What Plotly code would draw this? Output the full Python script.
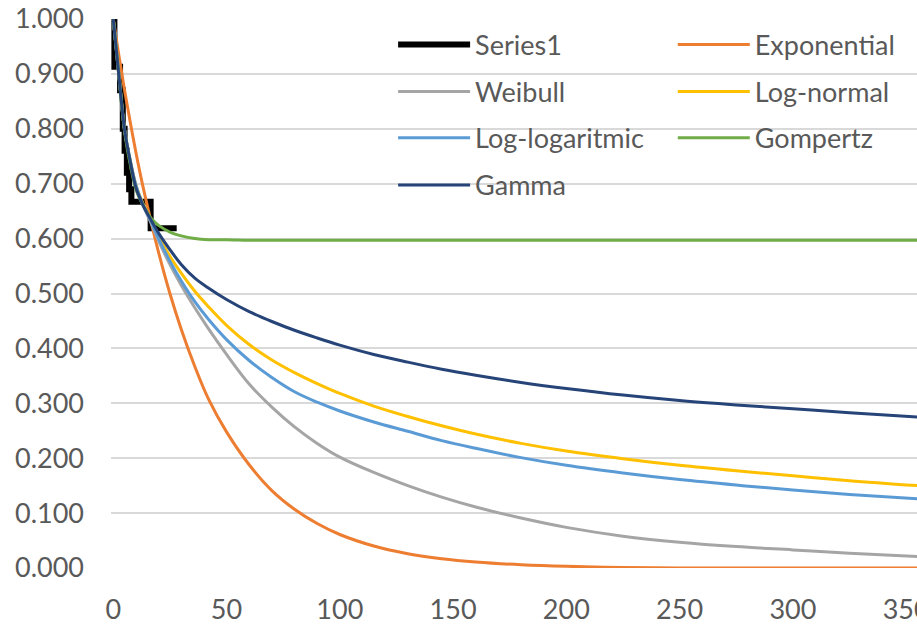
import plotly.graph_objects as go

# ---- data ----
km_time = [0, 0.5, 3, 4.2, 5, 6, 7, 8, 16.5, 28]
km_surv = [1.0, 0.913, 0.87, 0.80, 0.76, 0.72, 0.69, 0.667, 0.619, 0.619]

t = [0, 2.5, 5, 7.5, 10, 13, 16.5, 20, 25, 30, 36, 42, 50, 60, 70, 80, 90, 100,
     115, 130, 145, 160, 180, 200, 225, 250, 275, 300, 325, 355]

exponential = [1.0, 0.933, 0.87, 0.812, 0.757, 0.697, 0.634, 0.575, 0.5, 0.435,
               0.367, 0.308, 0.248, 0.188, 0.141, 0.107, 0.081, 0.061,
               0.04, 0.026, 0.017, 0.011, 0.006, 0.003, 0.001, 0.0, 0.0, 0.0, 0.0, 0.0]
weibull = [1.0, 0.898, 0.798, 0.742, 0.697, 0.662, 0.63, 0.596, 0.553, 0.515,
           0.474, 0.436, 0.389, 0.335, 0.293, 0.257, 0.227, 0.202,
           0.174, 0.15, 0.129, 0.111, 0.091, 0.074, 0.058, 0.047, 0.039, 0.033, 0.027, 0.021]
log_normal = [1.0, 0.898, 0.798, 0.742, 0.697, 0.665, 0.635, 0.604, 0.568, 0.537,
              0.504, 0.476, 0.442, 0.407, 0.379, 0.356, 0.336, 0.318,
              0.295, 0.276, 0.259, 0.244, 0.227, 0.213, 0.199, 0.187, 0.177, 0.168, 0.159, 0.15]
log_logistic = [1.0, 0.898, 0.798, 0.742, 0.697, 0.663, 0.633, 0.600, 0.559, 0.523,
                0.485, 0.453, 0.416, 0.378, 0.347, 0.321, 0.302, 0.286,
                0.266, 0.249, 0.232, 0.218, 0.201, 0.187, 0.173, 0.161, 0.151, 0.142, 0.134, 0.126]
gompertz = [1.0, 0.895, 0.795, 0.735, 0.69, 0.662, 0.638, 0.624, 0.612, 0.605,
            0.600, 0.598, 0.598, 0.597, 0.597, 0.597, 0.597, 0.597,
            0.597, 0.597, 0.597, 0.597, 0.597, 0.597, 0.597, 0.597, 0.597, 0.597, 0.597, 0.597]
gamma = [1.0, 0.895, 0.798, 0.74, 0.693, 0.662, 0.635, 0.61, 0.58, 0.553,
         0.528, 0.51, 0.489, 0.467, 0.449, 0.433, 0.419, 0.406,
         0.389, 0.375, 0.362, 0.351, 0.338, 0.327, 0.315, 0.305, 0.297, 0.29, 0.283, 0.275]

y_ticks = [0.0, 0.1, 0.2, 0.3, 0.4, 0.5, 0.6, 0.7, 0.8, 0.9, 1.0]
x_ticks = [0, 50, 100, 150, 200, 250, 300, 350]

FONT = "Lato, 'Open Sans', sans-serif"
GREY = "#595959"

series = [
    ("Series1", km_time, km_surv, "#000000", 6, "hv"),
    ("Exponential", t, exponential, "#ED7D31", 3, "spline"),
    ("Weibull", t, weibull, "#A5A5A5", 3, "spline"),
    ("Log-normal", t, log_normal, "#FFC000", 3, "spline"),
    ("Log-logaritmic", t, log_logistic, "#5B9BD5", 3, "spline"),
    ("Gompertz", t, gompertz, "#70AD47", 3, "spline"),
    ("Gamma", t, gamma, "#264478", 3, "spline"),
]
# legend grid: (column x in paper, row y in paper)
col_x = [0.35, 0.697]
row_y = [0.9526, 0.867, 0.783, 0.697]

fig = go.Figure()
legends = {}
for i, (name, xs, ys, col, w, shape) in enumerate(series):
    lname = "legend" if i == 0 else f"legend{i + 1}"
    line = dict(color=col, width=w, shape=shape)
    if shape == "spline":
        line["smoothing"] = 1.0
    fig.add_trace(go.Scatter(x=xs, y=ys, name=name, mode="lines", line=line,
                             legend=lname))
    legends[lname] = dict(x=col_x[i % 2], y=row_y[i // 2], xanchor="left", yanchor="middle",
                          orientation="h", bgcolor="rgba(0,0,0,0)", borderwidth=0,
                          font=dict(family=FONT, size=27, color=GREY), itemwidth=72)

fig.update_layout(
    width=917, height=624,
    margin=dict(l=111, r=0, t=19, b=56, autoexpand=False),
    paper_bgcolor="white", plot_bgcolor="white",
    showlegend=True,
    font=dict(family=FONT, color=GREY),
    **legends,
)
fig.update_xaxes(range=[-1, 354.8], tickvals=x_ticks, ticktext=[str(v) for v in x_ticks],
                 showgrid=False, zeroline=False, showline=False, ticks="", automargin=False,
                 ticklabeloverflow="allow",
                 tickfont=dict(family=FONT, size=27, color=GREY), ticklabelstandoff=23)
fig.update_yaxes(range=[0, 1.0], tickvals=y_ticks, ticktext=[f"{v:.3f}" for v in y_ticks],
                 showgrid=True, gridcolor="#D9D9D9", gridwidth=2, zeroline=False,
                 showline=False, ticks="", automargin=False,
                 tickfont=dict(family=FONT, size=27, color=GREY), ticklabelstandoff=26)

fig.write_html("out.html")
